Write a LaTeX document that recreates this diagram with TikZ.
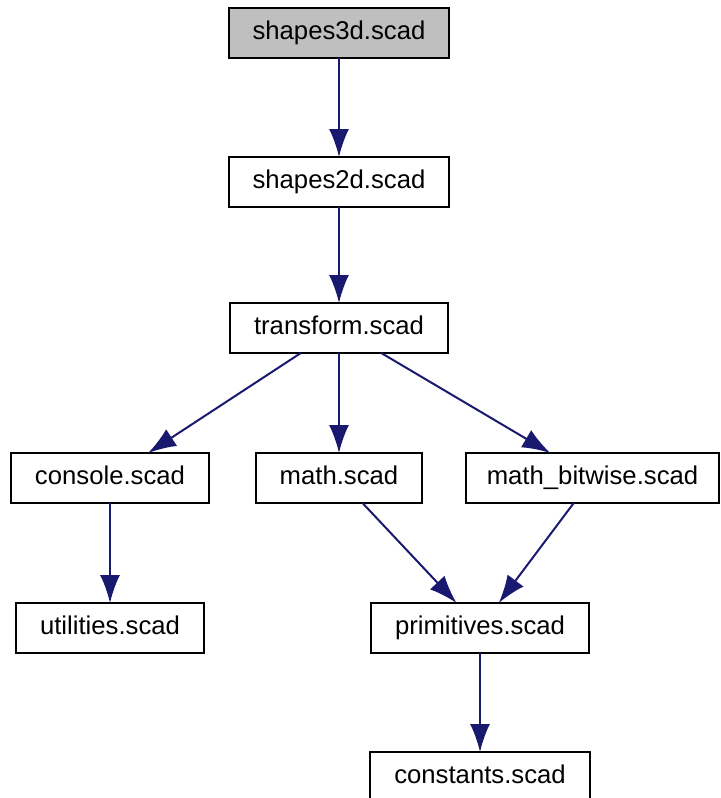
\documentclass[tikz,border=0pt]{standalone}
\usepackage{fontspec}
\setmainfont{Liberation Sans}
\usetikzlibrary{arrows.meta}
\definecolor{edgeblue}{HTML}{191970}
\definecolor{rootgray}{HTML}{BFBFBF}

\begin{document}
\begin{tikzpicture}[x={(0.5pt,0pt)},y={(0pt,-0.5pt)},
every node/.style={draw=black,line width=1pt,minimum height=25pt,text height=9.4pt,text depth=2.8pt,inner xsep=12pt,outer sep=0pt,font=\fontsize{12.85}{15}\selectfont},
dep/.style={draw=edgeblue,line width=1pt,-{Latex[length=14pt,width=10pt]}}]
\useasboundingbox (0,0) rectangle (720,798);

\node[fill=rootgray] (shapes3d) at (339,33) {shapes3d.scad};
\node (shapes2d) at (339,182) {shapes2d.scad};
\node (transform) at (339,328) {transform.scad};
\node (console) at (110,478) {console.scad};
\node (math) at (339,478) {math.scad};
\node[inner xsep=10.5pt] (bitwise) at (592.5,478) {math\_bitwise.scad};
\node (utilities) at (110,628) {utilities.scad};
\node (primitives) at (480,628) {primitives.scad};
\node (constants) at (480,777) {constants.scad};

\draw[dep] (shapes3d) -- (shapes2d);
\draw[dep] (shapes2d) -- (transform);
\draw[dep] (transform) -- (console);
\draw[dep] (transform) -- (math);
\draw[dep] (transform) -- (bitwise);
\draw[dep] (console) -- (utilities);
\draw[dep] (math) -- (primitives);
\draw[dep] (bitwise) -- (primitives);
\draw[dep] (primitives) -- (constants);
\end{tikzpicture}
\end{document}
